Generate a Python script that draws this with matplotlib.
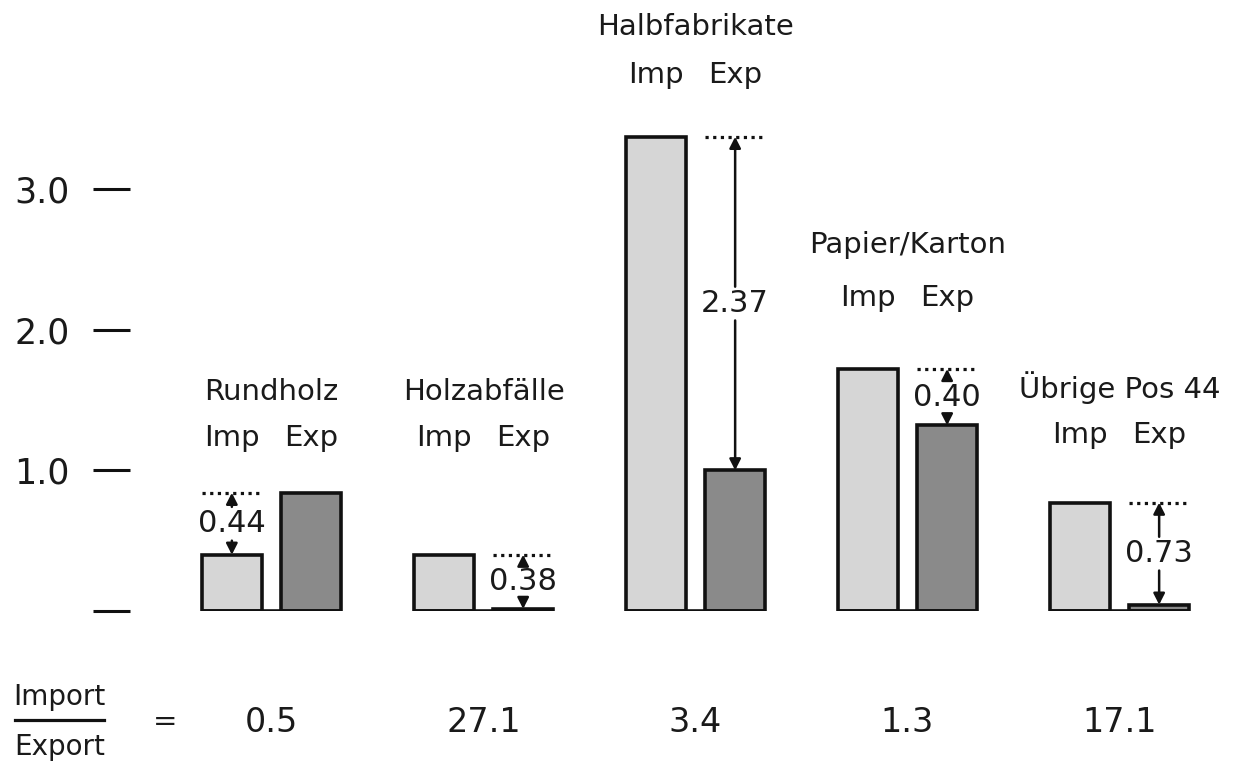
import matplotlib
matplotlib.use("Agg")
import matplotlib.pyplot as plt
import numpy as np

# values (Mio. t, approx.)
groups = ["Rundholz", "Holzabfälle", "Halbfabrikate", "Papier/Karton", "Übrige Pos 44"]
imp = [0.40, 0.40, 3.37, 1.72, 0.77]
exp = [0.84, 0.015, 1.00, 1.32, 0.045]
diff_labels = ["0.44", "0.38", "2.37", "0.40", "0.73"]
ratio_labels = ["0.5", "27.1", "3.4", "1.3", "17.1"]
yticks = [0, 1, 2, 3]
ytick_labels = ["", "1.0", "2.0", "3.0"]

# layout (data units) for the group captions
title_y = [1.556, 1.556, 4.151, 2.601, 1.585]
sub_y = [1.23, 1.23, 3.81, 2.225, 1.251]

plt.rcParams['font.family'] = ['DejaVu Sans']

fig = plt.figure(figsize=(12.35, 7.65), dpi=100)
ax = fig.add_axes([130/1235, 154/765, 1105/1235, 611/765])

x = np.arange(len(groups))
w = 0.285
off = 0.187
lw = 2.6

ax.bar(x - off, imp, w, color="#d6d6d6", edgecolor="#111111", linewidth=lw)
ax.bar(x + off, exp, w, color="#8a8a8a", edgecolor="#111111", linewidth=lw)
ax.hlines(np.zeros(len(x)), x - off - w/2, x + off + w/2, color="#111111", lw=lw)

fs = 21
for i in range(len(groups)):
    ax.text(x[i], title_y[i], groups[i], ha="center", va="center", fontsize=fs, color="#1a1a1a")
    ax.text(x[i] - off, sub_y[i], "Imp", ha="center", va="center", fontsize=fs, color="#1a1a1a")
    ax.text(x[i] + off, sub_y[i], "Exp", ha="center", va="center", fontsize=fs, color="#1a1a1a")

    # difference marker over the lower bar
    hi = max(imp[i], exp[i])
    lo = min(imp[i], exp[i])
    xl = x[i] - off if imp[i] < exp[i] else x[i] + off
    ax.plot([xl - w/2, xl + w/2], [hi, hi], color="#111111", lw=2.3,
            linestyle=(0, (1, 1.4)))
    mid = (hi + lo) / 2
    gap = 0.12
    up_start = min(mid + gap, hi - 0.08)
    dn_start = max(mid - gap, lo + 0.08)
    ap = dict(arrowstyle="-|>,head_length=0.55,head_width=0.28", lw=1.8,
              color="#111111", shrinkA=0, shrinkB=0, mutation_scale=12)
    ax.annotate("", xy=(xl, hi), xytext=(xl, up_start), arrowprops=ap)
    ax.annotate("", xy=(xl, lo), xytext=(xl, dn_start), arrowprops=ap)
    ax.text(xl, mid, diff_labels[i], ha="center", va="center", fontsize=22, color="#1a1a1a")

    ax.text(x[i], -0.79, ratio_labels[i], ha="center", va="center", fontsize=24, color="#1a1a1a")

# Import / Export fraction at the bottom left
ax.text(-1.0, -0.611, "Import", ha="center", va="center", fontsize=20, color="#1a1a1a")
ax.text(-1.0, -0.967, "Export", ha="center", va="center", fontsize=20, color="#1a1a1a")
ax.plot([-1.21, -0.79], [-0.775, -0.775], color="#111111", lw=2.3, clip_on=False)
ax.text(-0.502, -0.79, "=", ha="center", va="center", fontsize=21, color="#1a1a1a")

ax.set_xlim((130 - 271.5) / 212, (1235 - 271.5) / 212)
ax.set_ylim(0, 611 / 140.7)
ax.set_yticks(yticks)
ax.set_yticklabels(ytick_labels)
ax.tick_params(axis="y", length=26.6, width=2.2, pad=17, labelsize=25,
               color="#111111", labelcolor="#1a1a1a")
ax.set_xticks([])
for s in ax.spines.values():
    s.set_visible(False)

plt.savefig("out.png", dpi=100)
